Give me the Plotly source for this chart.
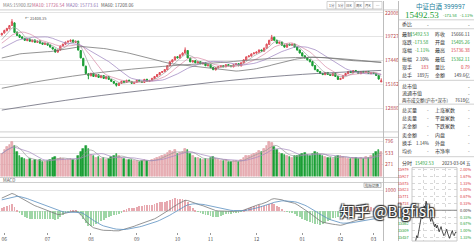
import plotly.graph_objects as go
import pandas as pd

W, H = 474, 242

# ---------------- data ----------------
pre_close = [16020, 16150, 16080, 16240, 16390, 16310, 16480, 16620, 16550, 16710,
             16860, 16790, 16950, 17100, 17040, 17220, 17380, 17300, 17460, 17620,
             17550, 17730, 17880, 17810, 17990, 18150, 18070, 18260, 18410, 18340,
             18520, 18680, 18600, 18790, 18950, 18880, 19070, 19230, 19160, 19700]

open_ = [19900, 20080, 20300, 20480, 20800, 21050, 20150, 19880, 19700, 19560,
         19350, 19500, 19250, 19400, 19180, 19320, 19120, 18980, 19090, 18930,
         18700, 18520, 18250, 18460, 18840, 19000, 19210, 19280, 19400, 19180,
         19300, 18400, 17650, 16900, 16150, 15980, 16210, 15900, 16080, 15800,
         16000, 15700, 15900, 15620, 15430, 15250, 15050, 15250, 15460, 15340,
         15560, 15440, 15240, 15350, 15560, 15460, 15340, 15650, 15430, 15520,
         15700, 15900, 16080, 16300, 16370, 16560, 16930, 17300, 17500, 17810,
         17680, 17960, 18150, 18400, 17680, 17300, 17430, 17210, 17340, 17120,
         17240, 16930, 17060, 16780, 16550, 16740, 16840, 16960, 16840, 17060,
         16960, 16840, 17030, 17150, 16930, 17210, 17490, 17800, 17870, 18090,
         18150, 18240, 18460, 18340, 18620, 18990, 19370, 19680, 19400, 19090,
         19210, 18930, 18720, 19020, 18900, 19020, 18740, 18460, 18180, 17900,
         17710, 17520, 17340, 16960, 16580, 16400, 16210, 16090, 16300, 16120,
         16000, 16210, 15930, 15620, 15740, 16000, 16190, 16400, 16280, 16490,
         16400, 16180, 16400, 16280, 16400, 16180, 16300, 16210, 16020, 15405.26]

high = [20100, 20400, 20580, 20850, 21408.35, 21100, 20250, 19950, 19780, 19620,
        19560, 19560, 19450, 19480, 19360, 19380, 19180, 19160, 19150, 18980,
        18760, 18580, 18500, 18880, 19060, 19260, 19350, 19460, 19450, 19360,
        19340, 18420, 17700, 16950, 16250, 16280, 16260, 16160, 16120, 16060,
        16040, 15980, 15950, 15680, 15480, 15300, 15320, 15500, 15500, 15600,
        15600, 15480, 15400, 15600, 15590, 15500, 15680, 15680, 15590, 15780,
        15960, 16150, 16340, 16430, 16620, 17000, 17380, 17560, 17850, 17860,
        18030, 18220, 18700, 18420, 17720, 17480, 17460, 17380, 17370, 17280,
        17260, 17090, 17080, 16810, 16800, 16900, 16990, 16990, 17090, 17080,
        16990, 17090, 17180, 17180, 17260, 17560, 17840, 17930, 18120, 18220,
        18300, 18500, 18480, 18680, 19060, 19430, 19900, 19720, 19420, 19260,
        19240, 18960, 19060, 19050, 19060, 19050, 18760, 18480, 18200, 17930,
        17740, 17550, 17360, 16990, 16600, 16430, 16240, 16330, 16320, 16140,
        16240, 16230, 15950, 15780, 16050, 16240, 16420, 16430, 16520, 16510,
        16420, 16420, 16420, 16420, 16420, 16330, 16320, 16230, 16040, 15736.38]

low = [19850, 20030, 20250, 20440, 20760, 20080, 19800, 19620, 19520, 19330,
       19300, 19250, 19200, 19150, 19140, 19060, 18960, 18940, 18880, 18690,
       18500, 18200, 18200, 18420, 18800, 18960, 19160, 19240, 19150, 19140,
       18400, 17650, 16900, 16100, 15650, 15940, 15880, 15860, 15780, 15760,
       15690, 15660, 15600, 15400, 15220, 14950, 15010, 15220, 15300, 15300,
       15420, 15220, 15200, 15320, 15400, 15320, 15300, 15420, 15400, 15490,
       15680, 15870, 16050, 16260, 16340, 16520, 16900, 17260, 17460, 17650,
       17640, 17930, 18120, 17650, 17280, 17260, 17190, 17180, 17100, 17090,
       16910, 16900, 16720, 16520, 16500, 16700, 16800, 16810, 16800, 16910,
       16810, 16800, 16990, 16900, 16880, 17170, 17450, 17760, 17830, 18040,
       18110, 18200, 18300, 18300, 18580, 18950, 19330, 19340, 19060, 19050,
       18880, 18680, 18680, 18880, 18860, 18690, 18400, 18120, 17840, 17650,
       17460, 17280, 16900, 16520, 16340, 16150, 16040, 16050, 16060, 15960,
       15960, 15880, 15590, 15580, 15700, 15960, 16150, 16240, 16240, 16340,
       16150, 16140, 16250, 16240, 16160, 16140, 16160, 15970, 15620, 15362.11]

close = [20040, 20321, 20509, 20790, 21165, 20134, 19853, 19665, 19572, 19384,
         19478, 19291, 19384, 19197, 19291, 19103, 19010, 19103, 18916, 18729,
         18541, 18260, 18447, 18822, 19010, 19197, 19291, 19384, 19197, 19291,
         18447, 17698, 16948, 16199, 16011, 16199, 15917, 16105, 15824, 16011,
         15730, 15917, 15636, 15449, 15262, 15074, 15262, 15449, 15355, 15543,
         15449, 15262, 15355, 15543, 15449, 15355, 15636, 15449, 15543, 15730,
         15917, 16105, 16292, 16386, 16573, 16948, 17323, 17510, 17791, 17698,
         17979, 18166, 18447, 17698, 17323, 17417, 17229, 17323, 17136, 17229,
         16948, 17042, 16761, 16573, 16761, 16855, 16948, 16855, 17042, 16948,
         16855, 17042, 17136, 16948, 17229, 17510, 17791, 17885, 18073, 18166,
         18260, 18447, 18354, 18635, 19010, 19384, 19665, 19384, 19103, 19197,
         18916, 18729, 19010, 18916, 19010, 18729, 18447, 18166, 17885, 17698,
         17510, 17323, 16948, 16573, 16386, 16199, 16105, 16292, 16105, 16011,
         16199, 15917, 15636, 15730, 16011, 16199, 16386, 16292, 16480, 16386,
         16199, 16386, 16292, 16386, 16199, 16292, 16199, 16011, 15666.11, 15492.53]

volume = [520, 610, 680, 720, 780, 700, 560, 480, 430, 410,
          380, 400, 360, 390, 350, 370, 340, 330, 360, 390,
          420, 450, 400, 430, 410, 390, 380, 400, 370, 350,
          480, 560, 640, 700, 620, 500, 460, 420, 440, 400,
          420, 390, 410, 450, 470, 520, 460, 430, 400, 380,
          370, 390, 360, 350, 340, 360, 380, 350, 340, 370,
          400, 420, 450, 480, 500, 540, 580, 560, 600, 520,
          540, 560, 620, 600, 520, 460, 430, 420, 400, 380,
          410, 390, 420, 440, 400, 380, 360, 350, 370, 340,
          330, 350, 360, 340, 380, 420, 460, 480, 500, 520,
          540, 580, 560, 620, 700, 780, 760, 680, 600, 540,
          520, 500, 470, 450, 430, 460, 480, 500, 520, 540,
          500, 480, 520, 560, 540, 500, 460, 440, 420, 430,
          410, 450, 480, 460, 440, 420, 400, 410, 430, 420,
          400, 420, 410, 440, 430, 460, 520, 560, 600, 560]

# long moving averages at a few bars
ma_a_idx = [0, 17, 39, 63, 86, 106, 125, 149]
ma_a_val = [14785, 15545, 16306, 16876, 17256, 17636, 17731, 17256]
ma_b_idx = [0, 31, 63, 90, 118, 149]
ma_b_val = [12694, 13835, 14785, 15545, 16116, 16496]

month_idx = [1, 18, 35, 53, 69, 82, 100, 118, 133, 146]
month_lab = ["06", "07", "08", "09", "10", "11", "12", "01", "02", "03"]

price_ticks = [12884, 15165, 17446, 19727, 22008]
price_tick_lab = ["12880", "15162", "17446", "19727", "22008"]

# intraday (5-minute points)
prev_close = 15666.11
intra_t = list(range(0, 241, 5))
intra_p = [15405, 15380, 15362, 15395, 15430, 15470, 15455, 15500, 15540, 15580,
           15620, 15600, 15650, 15700, 15680, 15736, 15710, 15690, 15640, 15600,
           15580, 15610, 15590, 15560, 15540, 15560, 15530, 15550, 15520, 15500,
           15520, 15540, 15510, 15490, 15470, 15480, 15500, 15520, 15490, 15460,
           15450, 15470, 15490, 15510, 15480, 15470, 15490, 15500, 15492.53]

# ---------------- helpers ----------------
def px(x):
    return x / W

def py(y):
    return 1 - y / H

RED = "#d8343c"
GREEN = "#1b9e35"
PINK = "#eab4ba"
TXT = "#333333"
FONT = "Noto Sans CJK SC"

n = len(close)
idx = list(range(n))
s = pd.Series(pre_close + close)
np_ = len(pre_close)
ma5 = s.rolling(5, min_periods=1).mean().tolist()[np_:]
ma10 = s.rolling(10, min_periods=1).mean().tolist()[np_:]
ma20 = s.rolling(20, min_periods=1).mean().tolist()[np_:]
ma60 = s.rolling(60, min_periods=1).mean().tolist()[np_:]
ema12 = s.ewm(span=12, adjust=False).mean()
ema26 = s.ewm(span=26, adjust=False).mean()
dif = ema12 - ema26
dea = dif.ewm(span=9, adjust=False).mean()
hist = (2 * (dif - dea)).tolist()[np_:]
dif = dif.tolist()[np_:]
dea = dea.tolist()[np_:]

vol_s = pd.Series(volume)
vma5 = vol_s.rolling(5, min_periods=1).mean().tolist()
vma10 = vol_s.rolling(10, min_periods=1).mean().tolist()

fig = go.Figure()

# ---- main candles ----
fig.add_trace(go.Candlestick(
    x=idx, open=open_, high=high, low=low, close=close,
    increasing=dict(line=dict(color="#de4a55", width=1), fillcolor="#f8dadd"),
    decreasing=dict(line=dict(color=GREEN, width=1), fillcolor=GREEN),
    whiskerwidth=0, xaxis="x", yaxis="y", hoverinfo="skip", showlegend=False))

for vals, col in [(ma5, "#a0a0a0"), (ma10, "#d88aa6"), (ma20, "#9a80bd"), (ma60, "#666666")]:
    fig.add_trace(go.Scatter(x=idx, y=vals, mode="lines", line=dict(color=col, width=0.7),
                             xaxis="x", yaxis="y", hoverinfo="skip", showlegend=False))
fig.add_trace(go.Scatter(x=ma_a_idx, y=ma_a_val, mode="lines", line=dict(color="#7a7a7a", width=0.8, shape="spline"),
                         xaxis="x", yaxis="y", hoverinfo="skip", showlegend=False))
fig.add_trace(go.Scatter(x=ma_b_idx, y=ma_b_val, mode="lines", line=dict(color="#6a6a7a", width=0.8, shape="spline"),
                         xaxis="x", yaxis="y", hoverinfo="skip", showlegend=False))

# ---- volume ----
vcol = [PINK if c >= o else GREEN for o, c in zip(open_, close)]
vline = ["#d98a92" if c >= o else GREEN for o, c in zip(open_, close)]
fig.add_trace(go.Bar(x=idx, y=volume, marker=dict(color=vcol, line=dict(color=vline, width=0.5)),
                     width=0.62, xaxis="x2", yaxis="y2", hoverinfo="skip", showlegend=False))
fig.add_trace(go.Scatter(x=idx, y=vma5, mode="lines", line=dict(color="#9a9a9a", width=0.7),
                         xaxis="x2", yaxis="y2", hoverinfo="skip", showlegend=False))
fig.add_trace(go.Scatter(x=idx, y=vma10, mode="lines", line=dict(color="#a58ac0", width=0.7),
                         xaxis="x2", yaxis="y2", hoverinfo="skip", showlegend=False))

# ---- MACD ----
hcol = ["#e7a9b0" if h >= 0 else "#9ed6a6" for h in hist]
fig.add_trace(go.Bar(x=idx, y=hist, marker=dict(color=hcol, line=dict(width=0)), width=0.3,
                     xaxis="x3", yaxis="y3", hoverinfo="skip", showlegend=False))
fig.add_trace(go.Scatter(x=idx, y=dif, mode="lines", line=dict(color="#7a7a7a", width=0.8),
                         xaxis="x3", yaxis="y3", hoverinfo="skip", showlegend=False))
fig.add_trace(go.Scatter(x=idx, y=dea, mode="lines", line=dict(color="#5b8fc0", width=0.8),
                         xaxis="x3", yaxis="y3", hoverinfo="skip", showlegend=False))

# ---- intraday ----
fig.add_trace(go.Scatter(x=intra_t, y=intra_p, mode="lines", line=dict(color="#222222", width=0.8),
                         xaxis="x4", yaxis="y4", hoverinfo="skip", showlegend=False))

XD = [0, px(383)]
XR = [-0.7, n - 0.3]
hi_m = 22008 + 3 * 95.04
lo_m = 12884 - 24 * 95.04
vmax = 880
mac_abs = max(abs(v) for v in dif + dea + hist)

intra_step = prev_close * 0.02 / 6
intra_levels = [prev_close + k * intra_step for k in range(-5, 7)]
itop = prev_close * (1 + 0.02 * 43 / 41)
ibot = prev_close * (1 - 0.02 * 31 / 41)

common_x = dict(showgrid=False, zeroline=False, showline=False, range=XR, fixedrange=True)
fig.update_layout(
    width=W, height=H, margin=dict(l=0, r=0, t=0, b=0),
    paper_bgcolor="white", plot_bgcolor="white",
    font=dict(family=FONT, size=6, color=TXT),
    bargap=0,
    xaxis=dict(domain=XD, anchor="y", showticklabels=False, rangeslider=dict(visible=False), **common_x),
    yaxis=dict(domain=[py(132), py(9)], range=[lo_m, hi_m], side="right", tickvals=price_ticks,
               ticktext=price_tick_lab, tickfont=dict(size=5, color="#b8484e"), showgrid=True,
               gridcolor="#e4e4e4", gridwidth=1, zeroline=False, ticks="", ticklabelstandoff=1),
    xaxis2=dict(domain=XD, anchor="y2", showticklabels=False, matches="x", **common_x),
    yaxis2=dict(domain=[py(177), py(138)], range=[0, vmax], side="right", tickvals=[271, 533, 796],
                ticktext=["271", "533", "796"], tickfont=dict(size=5, color="#b8484e"), showgrid=True,
                gridcolor="#e4e4e4", zeroline=False, ticklabelstandoff=1),
    xaxis3=dict(domain=XD, anchor="y3", matches="x", tickvals=month_idx, ticktext=month_lab,
                tickfont=dict(size=5, color="#555"), ticks="outside", ticklen=2, tickcolor="#999",
                showgrid=False, zeroline=False, showline=False, fixedrange=True),
    yaxis3=dict(domain=[py(233), py(183)], range=[-mac_abs * 1.05, mac_abs * 1.5], side="right",
                tickfont=dict(size=5, color="#b8484e"), showgrid=True, gridcolor="#e4e4e4",
                zeroline=False, nticks=4, ticklabelstandoff=1),
    xaxis4=dict(domain=[px(412), px(457)], anchor="y4", range=[0, 240], tickvals=[0, 60, 120, 180, 240],
                showticklabels=False, showgrid=True, gridcolor="#d8d8d8", griddash="dot", zeroline=False,
                showline=False),
    yaxis4=dict(domain=[py(242), py(168)], range=[ibot, itop], tickvals=intra_levels, showticklabels=False,
                showgrid=True, gridcolor="#d8d8d8", griddash="dot", zeroline=False),
)

shapes = []
def hline(y, x0, x1, color="#cfcfcf", w=1):
    shapes.append(dict(type="line", xref="paper", yref="paper", x0=px(x0), x1=px(x1), y0=py(y), y1=py(y),
                       line=dict(color=color, width=w)))
def vline(x, y0, y1, color="#cfcfcf", w=1):
    shapes.append(dict(type="line", xref="paper", yref="paper", x0=px(x), x1=px(x), y0=py(y0), y1=py(y1),
                       line=dict(color=color, width=w)))

hline(9, 0, 398)
hline(132, 0, 398)
hline(137.5, 0, 398)
hline(178, 0, 398)
hline(183, 0, 398)
vline(383.5, 0, 242, "#bdbdbd")
vline(398.5, 0, 242, "#bdbdbd")
for y in [19, 28, 80, 104, 157]:
    hline(y, 399, 474, "#d0d0d0")
# intraday frame and zero line
shapes.append(dict(type="rect", xref="paper", yref="paper", x0=px(412), x1=px(457), y0=py(242), y1=py(168),
                   line=dict(color="#c8c8c8", width=1)))
hline(211, 412, 457, "#888888")
# toolbar at the top right of the main chart
for x0 in [327, 336, 345, 355, 364, 373]:
    shapes.append(dict(type="rect", xref="paper", yref="paper", x0=px(x0), x1=px(x0 + 9), y0=py(8), y1=py(0.5),
                       line=dict(color="#b5b5b5", width=0.6), fillcolor="white"))
# indicator switch box in MACD
shapes.append(dict(type="rect", xref="paper", yref="paper", x0=px(364), x1=px(381), y0=py(188), y1=py(183.5),
                   line=dict(color="#999", width=0.6), fillcolor="white"))
fig.update_layout(shapes=shapes)

anns = []
def T(x, y, text, size=5, color=TXT, xa="left", family=FONT, **kw):
    anns.append(dict(x=px(x), y=py(y), xref="paper", yref="paper", text=text, showarrow=False,
                     xanchor=xa, yanchor="middle", font=dict(size=size, color=color, family=family), **kw))

# header of main chart
T(1, 4.5, "MA5:15900.82", 4.5, "#808080")
T(30, 4.5, "MA10: 17726.54", 4.5, "#c0608a")
T(64, 4.5, "MA20: 15773.61", 4.5, "#8b6fb0")
T(99, 4.5, "MA60: 17208.06", 4.5, "#555555")
for x0, t in zip([327, 336, 345, 355, 364, 373], ["1分", "5分", "日K", "周K", "月K", "⋯"]):
    T(x0 + 4.5, 4.3, t, 3.5, "#555", xa="center")
T(23, 17.5, "← 21408.35", 4, "#555")
T(1, 180.5, "MACD", 4.5, "#555")
T(372.5, 185.7, "指标切换", 3.5, "#444", xa="center")

# info panel
T(440, 5, "中证白酒 399997", 6.5, "#23809c", xa="center")
T(403, 14, "15492.53", 9, GREEN, family="Liberation Serif")
T(441, 14.5, "-173.58", 4, GREEN)
T(458, 14.5, "-1.11%", 4, GREEN)
T(400, 23.5, "委比", 5)
T(431, 23.5, "-", 5, xa="right")
T(472, 23.5, "-", 5, xa="right")
rows = [
    ("最新", "15492.53", GREEN, "昨收", "15666.11", TXT),
    ("涨跌", "-173.58", GREEN, "开盘", "15405.26", GREEN),
    ("涨幅", "-1.11%", GREEN, "最高", "15736.38", RED),
    ("振幅", "2.10%", TXT, "最低", "15362.11", GREEN),
    ("现手", "183", RED, "量比", "0.79", RED),
    ("总手", "189万", TXT, "金额", "149.6亿", TXT),
]
for k, (a, b, bc, c, d, dc) in enumerate(rows):
    y = 33 + k * 8.4
    T(400, y, a, 5)
    T(431, y, b, 4.5, bc, xa="right")
    T(433, y, c, 5)
    T(472, y, d, 4.5, dc, xa="right")
T(400, 86, "总市值", 5)
T(472, 86, "-", 5, xa="right")
T(400, 93, "流通市值", 5)
T(472, 93, "-", 5, xa="right")
T(400, 100, "两市成交额(沪市+深市)", 4.5)
T(472, 100, "7618亿", 4.5, xa="right")
rows2 = [("总买量", "-", "上涨家数", "-"), ("总卖量", "-", "平盘家数", "-"), ("买金额", "-", "下跌家数", "-"),
         ("卖金额", "-", "内盘", "-"), ("换手", "1.14%", "外盘", "-"), ("均价", "-", "市净率", "-")]
for k, (a, b, c, d) in enumerate(rows2):
    y = 109.5 + k * 8.4
    T(400, y, a, 5)
    T(431, y, b, 4.5, xa="right")
    T(433, y, c, 5)
    T(472, y, d, 4.5, xa="right")

# intraday header
T(400, 163, "分时", 5)
T(413, 163, "15492.53", 4.5, GREEN)
T(473, 163, "2023-03-04 五", 4.5, TXT, xa="right")
for k in range(-4, 7):
    y = 211 - k * 41 / 6
    lv = prev_close * (1 + 0.02 * k / 6)
    col = RED if k > 0 else (GREEN if k < 0 else TXT)
    T(411, y, f"{lv:.0f}", 3.8, col, xa="right")
    T(473, y, f"{abs(2 * k / 6):.2f}%", 3.8, col, xa="right")

# watermark
anns.append(dict(x=px(387), y=py(211), xref="paper", yref="paper", text="知乎 @Bigfish", showarrow=False,
                 xanchor="center", yanchor="middle",
                 font=dict(size=15, color="white", family=FONT, shadow="1px 1px 1px #333, -1px -1px 1px #333, 1px -1px 1px #333, -1px 1px 1px #333")))
fig.update_layout(annotations=anns)

fig.write_html("out.html")
